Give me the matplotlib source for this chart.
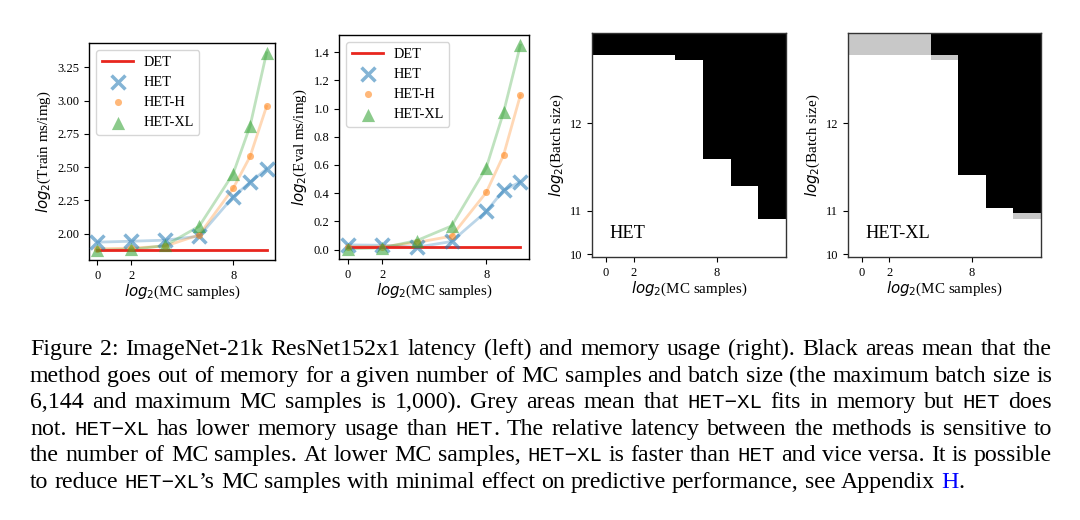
import re
import numpy as np
import matplotlib
matplotlib.use("Agg")
import matplotlib.pyplot as plt
from matplotlib.colors import ListedColormap

plt.rcParams["font.family"] = ["Liberation Serif", "DejaVu Serif"]
plt.rcParams["mathtext.fontset"] = "dejavusans"

# latency, x is log2(MC samples)
mc_log2 = [0, 2, 4, 6, 8, 9, 9.97]
train_det = 1.878
train_het = [1.935, 1.942, 1.95, 1.98, 2.276, 2.386, 2.486]
train_het_h = [1.885, 1.89, 1.905, 1.99, 2.34, 2.58, 2.957]
train_het_xl = [1.875, 1.88, 1.91, 2.055, 2.45, 2.81, 3.36]
eval_det = 0.021
eval_het = [0.033, 0.03, 0.017, 0.057, 0.27, 0.42, 0.48]
eval_het_h = [0.02, 0.02, 0.05, 0.095, 0.405, 0.67, 1.095]
eval_het_xl = [0.005, 0.012, 0.064, 0.167, 0.58, 0.974, 1.45]

# memory, largest batch size that fits for each MC setting
mem_mc_log2 = [0, 2, 4, 6, 8, 10, 12]
batch_sizes = list(range(1024, 6145, 128))
het_max_batch = [5632, 5632, 5632, 5504, 3200, 2560, 1792]
het_xl_max_batch = [6144, 6144, 6144, 5632, 2816, 2048, 1920]

caption_lines = [
    "Figure 2: ImageNet-21k ResNet152x1 latency (left) and memory usage (right). Black areas mean that the",
    "method goes out of memory for a given number of MC samples and batch size (the maximum batch size is",
    "6,144 and maximum MC samples is 1,000). Grey areas mean that `HET\u2212XL` fits in memory but `HET` does",
    "not. `HET\u2212XL` has lower memory usage than `HET`. The relative latency between the methods is sensitive to",
    "the number of MC samples. At lower MC samples, `HET\u2212XL` is faster than `HET` and vice versa. It is possible",
    "to reduce `HET\u2212XL`\u2019s MC samples with minimal effect on predictive performance, see Appendix ^H^.",
]

W, H = 1080, 520
fig = plt.figure(figsize=(W / 100, H / 100), dpi=100)


def px_axes(left, top, right, bottom):
    return fig.add_axes([left / W, 1 - bottom / H, (right - left) / W, (bottom - top) / H])


def latency_panel(ax, det, het, het_h, het_xl, ylabel, yticks):
    ax.plot([mc_log2[0], mc_log2[-1]], [det, det], color="#e8261e", lw=2, label="DET", zorder=3)
    series = [
        (het, "tab:blue", "x", 100, "HET"),
        (het_h, "tab:orange", "o", 26, "HET-H"),
        (het_xl, "tab:green", "^", 90, "HET-XL"),
    ]
    for ys, color, marker, size, label in series:
        ax.plot(mc_log2, ys, color=color, alpha=0.3, lw=2)
        ax.scatter(mc_log2, ys, color=color, marker=marker, s=size, alpha=0.55,
                   linewidths=2.5 if marker == "x" else 0, label=label, zorder=4)
    ax.set_xticks([0, 2, 8])
    ax.set_yticks(yticks)
    ax.tick_params(labelsize=9)
    ax.set_xlabel("$log_2$(MC samples)", fontsize=10.8, labelpad=1)
    ax.set_ylabel(ylabel, fontsize=10.8, labelpad=3)
    ax.legend(loc="upper left", fontsize=10.3, handlelength=2.2, labelspacing=0.5,
              handletextpad=0.7)
    for s in ax.spines.values():
        s.set_linewidth(1.0)


def memory_panel(ax, z, name):
    x_edges = [c - 1 for c in mem_mc_log2] + [mem_mc_log2[-1] + 1]
    y_edges = [b - 64 for b in batch_sizes] + [batch_sizes[-1] + 64]
    cmap = ListedColormap(["white", "#c8c8c8", "black"])
    ax.pcolormesh(x_edges, y_edges, z, cmap=cmap, vmin=-0.5, vmax=2.5)
    ax.set_xticks([0, 2, 8])
    ax.set_yticks([1024, 2048, 4096])
    ax.set_yticklabels(["10", "11", "12"])
    ax.tick_params(labelsize=9)
    ax.set_xlabel("$log_2$(MC samples)", fontsize=10.8, labelpad=1)
    ax.set_ylabel("$log_2$(Batch size)", fontsize=10.8, labelpad=3)
    ax.text(0.088, 0.107, name, transform=ax.transAxes, fontsize=13.2, va="center")
    for s in ax.spines.values():
        s.set_linewidth(1.0)
        s.set_color("#333333")


ax1 = px_axes(89, 43, 275, 260)
latency_panel(ax1, train_det, train_het, train_het_h, train_het_xl,
              "$log_2$(Train ms/img)", [2.0, 2.25, 2.5, 2.75, 3.0, 3.25])
ax1.set_yticklabels(["2.00", "2.25", "2.50", "2.75", "3.00", "3.25"])

ax2 = px_axes(339, 35, 529, 259)
latency_panel(ax2, eval_det, eval_het, eval_het_h, eval_het_xl,
              "$log_2$(Eval ms/img)", [0.0, 0.2, 0.4, 0.6, 0.8, 1.0, 1.2, 1.4])

b = np.array(batch_sizes)[:, None]
het_oom = b > np.array(het_max_batch)[None, :]
het_xl_oom = b > np.array(het_xl_max_batch)[None, :]
z_het = np.where(het_oom, 2, 0)
z_het_xl = np.where(het_xl_oom, 2, np.where(het_oom, 1, 0))

ax3 = px_axes(592, 33, 786, 257)
memory_panel(ax3, z_het, "HET")
ax4 = px_axes(848, 33, 1041, 257)
memory_panel(ax4, z_het_xl, "HET-XL")

# caption, justified by hand
renderer = fig.canvas.get_renderer()
serif = ["Liberation Serif", "DejaVu Serif"]
mono = ["Liberation Mono", "DejaVu Sans Mono"]
cap_size = 17.2
mono_size = 15.0
left, right = 30, 1052


def text_width(t):
    return t.get_window_extent(renderer).width


probe1 = fig.text(0, 0, "x x", fontsize=cap_size, family=serif)
probe2 = fig.text(0, 0, "xx", fontsize=cap_size, family=serif)
space_w = text_width(probe1) - text_width(probe2)
probe1.remove()
probe2.remove()

for i, line in enumerate(caption_lines):
    y = 1 - (355 + i * 26.6) / H
    words = []
    for word in line.split(" "):
        parts = []
        for piece in re.split(r"(`[^`]*`|\^[^^]*\^)", word):
            if not piece:
                continue
            size = cap_size
            if piece.startswith("`"):
                fam, col, s, size = mono, "black", piece[1:-1], mono_size
            elif piece.startswith("^"):
                fam, col, s = serif, "blue", piece[1:-1]
            else:
                fam, col, s = serif, "black", piece
            t = fig.text(0, y, s, fontsize=size, family=fam, color=col, va="baseline")
            parts.append((t, text_width(t)))
        words.append(parts)
    widths = [sum(w for _, w in parts) for parts in words]
    if i < len(caption_lines) - 1:
        gap = (right - left - sum(widths)) / (len(words) - 1)
    else:
        gap = space_w
    x = left
    for parts, wsum in zip(words, widths):
        px = x
        for t, w in parts:
            t.set_x(px / W)
            px += w
        x += wsum + gap

fig.savefig("out.png", dpi=100)
